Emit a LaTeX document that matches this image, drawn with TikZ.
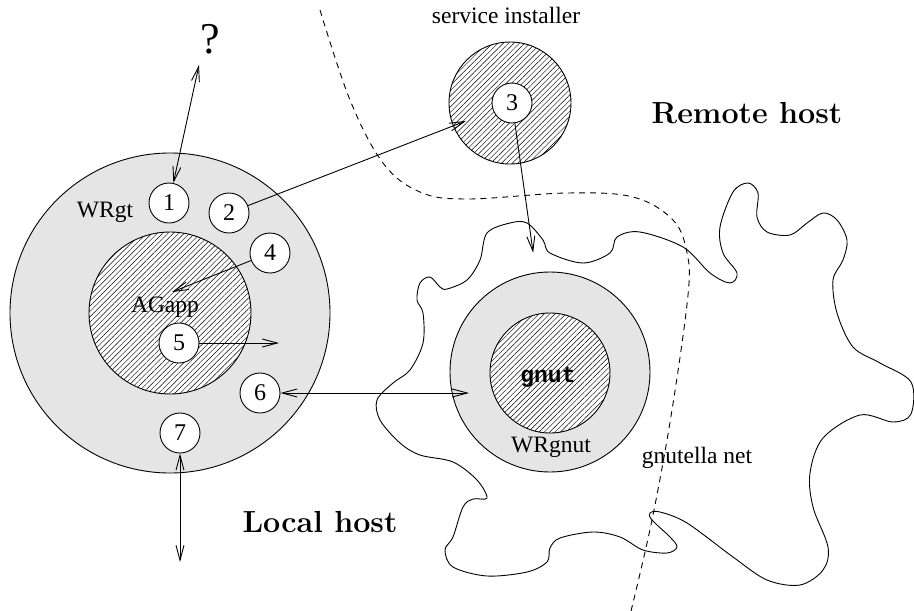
\documentclass[tikz,border=0pt]{standalone}
\usepackage{fontspec}
\newfontfamily\tms{Liberation Serif}
\newfontfamily\cour{Liberation Mono}
\usetikzlibrary{arrows.meta,patterns.meta}
\tikzset{
  lbl/.style={font=\tms\fontsize{23.5}{28}\selectfont, inner sep=0pt, anchor=base},
  bigl/.style={font=\fontsize{30.5}{36}\selectfont\bfseries, inner sep=0pt, anchor=base},
  num/.style={circle, draw, fill=white, minimum size=40pt, inner sep=0pt, line width=0.9pt,
    font=\tms\fontsize{24}{28}\selectfont},
  ring/.style={circle, draw, fill=gray!20, inner sep=0pt, line width=0.9pt},
  hatch/.style={circle, draw, inner sep=0pt, line width=0.9pt, preaction={fill=white},
    pattern={Lines[angle=45,distance=3.8pt,line width=0.45pt]}},
  conn/.style={line width=0.9pt},
  >={Straight Barb[length=15pt,width=8pt,line width=0.9pt]},
  dashline/.style={line width=0.9pt, dash pattern=on 6pt off 5pt},
}
\begin{document}
\begin{tikzpicture}[x=1pt,y=-1pt]
\useasboundingbox (0,0) rectangle (914,611);
% gnutella cloud
\draw[line width=0.9pt] plot[smooth cycle, tension=0.55] coordinates {
(423,313) (417,300) (420,283) (430,277) (440,287) (447,289) (467,280) (480,260)
(487,233) (510,223) (527,223) (543,240) (550,253) (583,263) (610,253) (617,237)
(640,232) (683,247) (710,273) (730,283) (737,273) (723,253) (720,227) (733,192)
(748,183) (758,193) (757,217) (767,232) (790,235) (807,223) (823,213) (837,220)
(847,240) (843,260) (833,280) (837,313) (853,347) (880,363) (911,382) (911,414)
(893,422) (860,415) (823,438) (810,473) (813,507) (828,547) (823,570) (800,585)
(767,580) (733,557) (687,523) (660,512) (650,513) (652,520) (670,537) (677,547)
(667,553) (643,550) (620,537) (593,532) (560,538) (550,548) (547,562) (527,572)
(487,576) (453,567) (445,550) (453,537) (463,507) (473,499) (487,498) (477,480)
(453,462) (420,455) (400,443) (380,420) (377,400) (393,383) (410,370) (423,343)};
% host boundary
\draw[dashline] plot[smooth, tension=0.6] coordinates {
(320,10) (350,100) (383,163) (420,192) (467,199) (567,193) (633,197) (673,220)
(687,253) (688,295) (672,410) (652,520) (631,611)};
% local host
\node[ring, minimum size=320pt] (wrgt) at (170,313) {};
\node[hatch, minimum size=162pt] (agapp) at (170,313) {};
\node[lbl] (wrgtl) at (105,217) {WRgt};
\node[lbl] (agl) at (165,312) {AGapp};
\node[num] (c1) at (169,203) {1};
\node[num] (c2) at (229,213) {2};
\node[num] (c4) at (270,253) {4};
\node[num] (c5) at (179,343) {5};
\node[num] (c6) at (260,393) {6};
\node[num] (c7) at (180,433) {7};
% service installer
\node[hatch, minimum size=122pt] (inst) at (510,103) {};
\node[num] (c3) at (512,103) {3};
\node[lbl] (instl) at (506,23) {service installer};
% gnut
\node[ring, minimum size=200pt] (wrgnut) at (550,372) {};
\node[hatch, minimum size=120pt] (gnut) at (550,373) {};
\node[inner sep=0pt, anchor=base, font=\cour\bfseries\fontsize{23}{28}\selectfont] (gnutl) at (548,382) {gnut};
\node[lbl] (wrgnutl) at (551,452) {WRgnut};
\node[lbl] (netl) at (697,463) {gnutella net};
% titles
\node[bigl] (remote) at (747,123) {Remote host};
\node[bigl] (local) at (320,532) {Local host};
\node[font=\tms\fontsize{44}{50}\selectfont, inner sep=0pt, anchor=base] (q) at (210,53) {?};
% free ends
\coordinate (tq) at (199,65);
\coordinate (t4) at (172,292);
\coordinate (t5) at (279,343);
\coordinate (t6) at (469,393);
\coordinate (t7) at (180,562);
% connectors
\draw[conn,<->] (c1) -- (tq);
\draw[conn,->,shorten >=29pt] (c2) -- (c3);
\draw[conn,->] (c4) -- (t4);
\draw[conn,->] (c5) -- (t5);
\draw[conn,<->] (c6) -- (t6);
\draw[conn,<->] (c7) -- (t7);
\draw[conn,->,shorten >=20pt] (c3) -- (wrgnut);
\end{tikzpicture}
\end{document}
